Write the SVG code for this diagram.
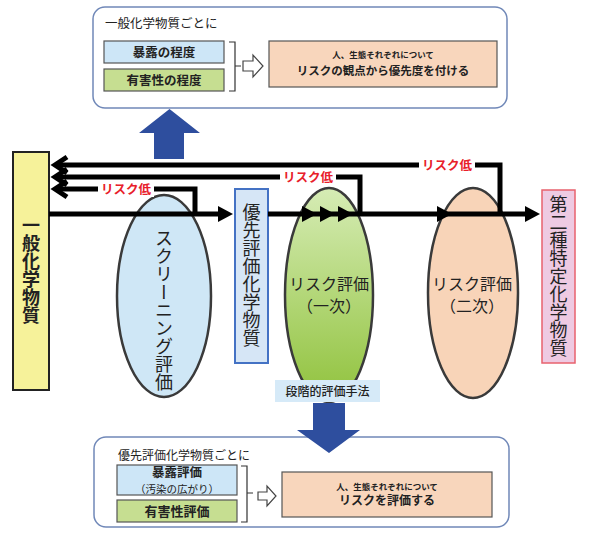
<svg xmlns="http://www.w3.org/2000/svg" width="590" height="535" viewBox="0 0 590 535">
<style>
text{font-family:"Noto Sans CJK JP","Noto Sans",sans-serif;fill:#222}
.b{font-weight:bold}
.v{writing-mode:vertical-rl;text-anchor:middle}
.red{fill:#E8202A;font-weight:bold;font-size:12.5px}
.panel{fill:#fff;stroke:#7088B8;stroke-width:1.5}
.box{stroke:#555;stroke-width:1.2}
.ln{fill:none;stroke:#000;stroke-width:5}
.ell{stroke:#3a3a3a;stroke-width:2.5}
.bkt{fill:none;stroke:#333;stroke-width:1.2}
.hol{fill:#fff;stroke:#444;stroke-width:1.2}
.bar{fill:#2E4E9E}
</style>
<defs>
<linearGradient id="gg" x1="0" y1="0" x2="0" y2="1">
<stop offset="0" stop-color="#D6ECB5"/>
<stop offset="1" stop-color="#90C23C"/>
</linearGradient>
<marker id="tri" markerUnits="userSpaceOnUse" viewBox="0 0 15 16" markerWidth="15" markerHeight="16" refX="7" refY="8" orient="auto">
<path d="M0,0 L15,8 L0,16 Z" fill="#000"/>
</marker>
<marker id="chev" markerUnits="userSpaceOnUse" viewBox="-18 -12 24 24" markerWidth="24" markerHeight="24" refX="0" refY="0" orient="auto" overflow="visible">
<path d="M-12,-8 L0,0 L-12,8" fill="none" stroke="#000" stroke-width="5"/>
</marker>
</defs>

<g id="top-panel">
<rect class="panel" x="93" y="7" width="414" height="101" rx="12"/>
<text x="105" y="28" font-size="12.5">一般化学物質ごとに</text>
<rect class="box" x="104" y="41" width="120" height="22" fill="#CDE6F7"/>
<text class="b" x="164" y="57" font-size="12.5" text-anchor="middle">暴露の程度</text>
<rect class="box" x="104" y="69" width="120" height="22" fill="#C6DE91"/>
<text class="b" x="164" y="85" font-size="12.5" text-anchor="middle">有害性の程度</text>
<path class="bkt" d="M229,42 H235 V91 H229 M235,66 H241"/>
<path class="hol" d="M243,61 H253 V55 L263,66 L253,77 V71 H243 Z"/>
<rect class="box" x="269" y="41" width="228" height="46" fill="#F8D6BC"/>
<text class="b" x="383" y="58" font-size="8.5" text-anchor="middle">人、生態それぞれについて</text>
<text class="b" x="383" y="75" font-size="11.5" text-anchor="middle">リスクの観点から優先度を付ける</text>
</g>

<g id="up-arrow">
<polygon class="bar" points="154,159 154,133 139,133 169.5,109 200,133 184,133 184,159"/>
</g>

<g id="general">
<rect x="13" y="152" width="36" height="238" fill="#F6F29A" stroke="#222" stroke-width="2"/>
<text class="v b" x="31" y="270" font-size="18">一般化学物質</text>
</g>

<g id="screening">
<ellipse class="ell" cx="164" cy="296" rx="47" ry="101" fill="#CFE7F6"/>
<text class="v" x="164" y="310" font-size="18">スクリーニング評価</text>
</g>

<g id="primary">
<ellipse class="ell" cx="329" cy="295" rx="44" ry="107" fill="url(#gg)"/>
<text x="329" y="290" font-size="16" text-anchor="middle">リスク評価</text>
<text x="329" y="312" font-size="16" text-anchor="middle">（一次）</text>
</g>

<g id="secondary">
<ellipse class="ell" cx="473" cy="293" rx="45" ry="105" fill="#F8D4B8"/>
<text x="472" y="290" font-size="16" text-anchor="middle">リスク評価</text>
<text x="472" y="312" font-size="16" text-anchor="middle">（二次）</text>
</g>

<g id="priority">
<rect x="235" y="189" width="33" height="174" fill="#D6E6F6" stroke="#4472C4" stroke-width="2"/>
<text class="v" x="251.5" y="275" font-size="18">優先評価化学物質</text>
</g>

<g id="class2">
<rect x="542" y="190" width="33" height="173" fill="#EECAE2" stroke="#E8626E" stroke-width="1.5"/>
<text class="v" x="558.5" y="276" font-size="18">第二種特定化学物質</text>
</g>

<g id="connectors">
<path class="ln" d="M49,214 H225" marker-end="url(#tri)"/>
<path class="ln" d="M268,214 H309" marker-end="url(#tri)"/>
<path class="ln" d="M309,214 H327" marker-end="url(#tri)"/>
<path class="ln" d="M327,214 H345" marker-end="url(#tri)"/>
<path class="ln" d="M345,214 H444" marker-end="url(#tri)"/>
<path class="ln" d="M444,214 H532" marker-end="url(#tri)"/>
<path class="ln" d="M195,216 V189 H55" marker-end="url(#chev)"/>
<path class="ln" d="M360,216 V177 H55" marker-end="url(#chev)"/>
<path class="ln" d="M500,216 V165 H55" marker-end="url(#chev)"/>
<rect x="98" y="181" width="56" height="16" fill="#fff"/>
<text class="red" x="126" y="194" text-anchor="middle">リスク低</text>
<rect x="280" y="169" width="56" height="16" fill="#fff"/>
<text class="red" x="308" y="182" text-anchor="middle">リスク低</text>
<rect x="419" y="157" width="56" height="16" fill="#fff"/>
<text class="red" x="447" y="170" text-anchor="middle">リスク低</text>
</g>

<g id="method-label">
<rect x="275" y="380" width="105" height="22" fill="#D6EAF8"/>
<text x="327.5" y="396" font-size="12" text-anchor="middle" fill="#333" font-weight="500">段階的評価手法</text>
</g>

<g id="bottom-panel">
<rect class="panel" x="94" y="437" width="415" height="90" rx="12"/>
<text x="118" y="460" font-size="12">優先評価化学物質ごとに</text>
<rect class="box" x="117" y="465" width="120" height="30" fill="#CDE6F7"/>
<text class="b" x="177" y="477" font-size="12.5" text-anchor="middle">暴露評価</text>
<text x="177" y="492.5" font-size="10.5" text-anchor="middle">（汚染の広がり）</text>
<rect class="box" x="117" y="500" width="120" height="22" fill="#C6DE91"/>
<text class="b" x="177" y="516" font-size="13" text-anchor="middle">有害性評価</text>
<path class="bkt" d="M241,466 H247 V522 H241 M247,493 H253"/>
<path class="hol" d="M258,492 H267 V486 L276,496 L267,506 V500 H258 Z"/>
<rect class="box" x="282" y="472" width="210" height="45" fill="#F8D6BC"/>
<text class="b" x="387" y="490" font-size="8.5" text-anchor="middle">人、生態それぞれについて</text>
<text class="b" x="387" y="505" font-size="12" text-anchor="middle">リスクを評価する</text>
</g>

<g id="down-arrow">
<polygon class="bar" points="313,403 345,403 345,430 360,430 329,453 297,430 313,430"/>
</g>
</svg>
